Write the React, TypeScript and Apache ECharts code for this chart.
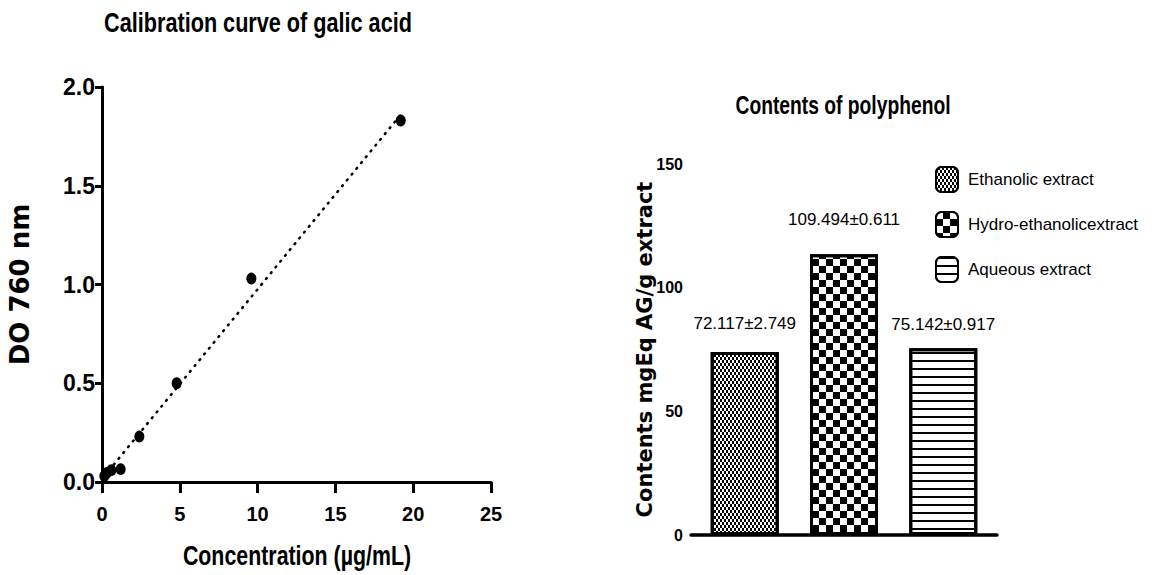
import React, { useEffect, useRef } from "react";
import * as echarts from "echarts";

// ---- Data: calibration curve of gallic acid ----
const concentrations = [0.15, 0.3, 0.6, 1.2, 2.4, 4.8, 9.6, 19.2];
const absorbances = [0.03, 0.045, 0.06, 0.065, 0.23, 0.5, 1.03, 1.83];
const fitX = [0.15, 19.2];
const fitY = [0.03, 1.86];
const xTicks = [0, 5, 10, 15, 20, 25];
const yTicks = [0.0, 0.5, 1.0, 1.5, 2.0];

// ---- Data: contents of polyphenol ----
const extractNames = ["Ethanolic extract", "Hydro-ethanolicextract", "Aqueous extract"];
const extractValues = [74, 113.5, 75.5];
const extractLabels = ["72.117±2.749", "109.494±0.611", "75.142±0.917"];
const contentTicks = [0, 50, 100, 150];

const SANS = "'Liberation Sans', Arial, sans-serif";
const WIDE = "'DejaVu Sans', Verdana, sans-serif";

const decals = [
  {
    symbol: "rect",
    symbolSize: 1,
    dashArrayX: [[2, 2], [0, 2, 2, 0]],
    dashArrayY: [3, 0],
    color: "#000",
    backgroundColor: "#fff",
  },
  {
    symbol: "rect",
    symbolSize: 1,
    dashArrayX: [[7, 7], [0, 7, 7, 0]],
    dashArrayY: [7, 0],
    color: "#000",
    backgroundColor: "#fff",
  },
  {
    symbol: "rect",
    symbolSize: 1,
    dashArrayX: [1, 0],
    dashArrayY: [2, 6],
    color: "#000",
    backgroundColor: "#fff",
  },
];
const labelDistances = [20, 26, 15];

function condensedText(text: string, x: number, y: number, size: number, scaleX: number) {
  return {
    type: "text",
    x,
    y,
    scaleX,
    silent: true,
    style: {
      text,
      fontFamily: SANS,
      fontWeight: "bold",
      fontSize: size,
      fill: "#000",
      align: "center",
      verticalAlign: "middle",
    },
  };
}

export default function App() {
  const ref = useRef<HTMLDivElement>(null);

  useEffect(() => {
    if (!ref.current) return;
    const chart = echarts.init(ref.current, null, { renderer: "svg" });

    const scatterData = concentrations.map((c, i) => [c, absorbances[i]]);
    const fitData = fitX.map((x, i) => [x, fitY[i]]);

    const barSeries = extractNames.map((name, i) => ({
      name,
      type: "bar",
      xAxisIndex: 1,
      yAxisIndex: 1,
      barWidth: 68,
      barGap: "46%",
      data: [extractValues[i]],
      itemStyle: {
        color: "#fff",
        borderColor: "#000",
        borderWidth: 3,
        decal: decals[i],
      },
      label: {
        show: true,
        position: "top",
        distance: labelDistances[i],
        formatter: () => extractLabels[i],
        fontFamily: SANS,
        fontSize: 17,
        color: "#000",
      },
    }));

    const option = {
      animation: false,
      backgroundColor: "#fff",
      graphic: [
        condensedText("Calibration curve of galic acid", 258, 22, 28, 0.773),
        condensedText("Contents of polyphenol", 843, 105, 26.5, 0.727),
        condensedText("Concentration (µg/mL)", 297, 555, 28, 0.763),
      ],
      legend: {
        orient: "vertical",
        left: 935,
        top: 166,
        itemWidth: 22,
        itemHeight: 25,
        itemGap: 18,
        padding: 0,
        data: extractNames,
        textStyle: { fontFamily: SANS, fontSize: 17, color: "#000", padding: [0, 0, 0, 5] },
      },
      grid: [
        { left: 102, top: 87, width: 389, height: 395 },
        { left: 691, top: 164, width: 306, height: 371 },
      ],
      xAxis: [
        {
          type: "value",
          gridIndex: 0,
          min: xTicks[0],
          max: xTicks[xTicks.length - 1],
          interval: xTicks[1] - xTicks[0],
          splitLine: { show: false },
          axisLine: { lineStyle: { color: "#000", width: 3 } },
          axisTick: { length: 11, lineStyle: { color: "#000", width: 3 } },
          axisLabel: {
            margin: 22,
            fontFamily: SANS,
            fontWeight: "bold",
            fontSize: 20,
            color: "#000",
          },
        },
        {
          type: "category",
          gridIndex: 1,
          data: [""],
          axisLine: { lineStyle: { color: "#000", width: 3.5 } },
          axisTick: { alignWithLabel: true, length: 10, lineStyle: { color: "#000", width: 2 } },
          axisLabel: { show: false },
        },
      ],
      yAxis: [
        {
          type: "value",
          gridIndex: 0,
          min: yTicks[0],
          max: yTicks[yTicks.length - 1],
          interval: yTicks[1] - yTicks[0],
          splitLine: { show: false },
          axisLine: { lineStyle: { color: "#000", width: 3 } },
          axisTick: { length: 7, lineStyle: { color: "#000", width: 3 } },
          axisLabel: {
            margin: 7,
            formatter: (v: number) => v.toFixed(1),
            fontFamily: SANS,
            fontWeight: "bold",
            fontSize: 23,
            color: "#000",
          },
          name: "DO 760 nm",
          nameLocation: "middle",
          nameGap: 69,
          nameTextStyle: { fontFamily: WIDE, fontWeight: "bold", fontSize: 26, color: "#000" },
        },
        {
          type: "value",
          gridIndex: 1,
          min: contentTicks[0],
          max: contentTicks[contentTicks.length - 1],
          interval: contentTicks[1] - contentTicks[0],
          splitLine: { show: false },
          axisLine: { lineStyle: { color: "#000", width: 3 } },
          axisTick: { length: 7, lineStyle: { color: "#000", width: 3 } },
          axisLabel: {
            margin: 8,
            fontFamily: SANS,
            fontWeight: "bold",
            fontSize: 16,
            color: "#000",
          },
          name: "Contents mgEq AG/g extract",
          nameLocation: "middle",
          nameGap: 36,
          nameMoveOverlap: false,
          nameTextStyle: { fontFamily: WIDE, fontWeight: "bold", fontSize: 21, color: "#000" },
        },
      ],
      series: [
        {
          type: "line",
          xAxisIndex: 0,
          yAxisIndex: 0,
          data: fitData,
          showSymbol: false,
          silent: true,
          lineStyle: { color: "#000", width: 2.5, type: [1, 6.5], cap: "round" },
        },
        {
          type: "scatter",
          xAxisIndex: 0,
          yAxisIndex: 0,
          data: scatterData,
          symbol: "circle",
          symbolSize: [10, 12],
          itemStyle: { color: "#000", opacity: 1 },
        },
        ...barSeries,
      ],
    };

    chart.setOption(option as any);
    return () => chart.dispose();
  }, []);

  return (
    <div
      ref={ref}
      style={{ position: "fixed", left: 0, top: 0, width: 1171, height: 575, background: "#fff" }}
    />
  );
}
